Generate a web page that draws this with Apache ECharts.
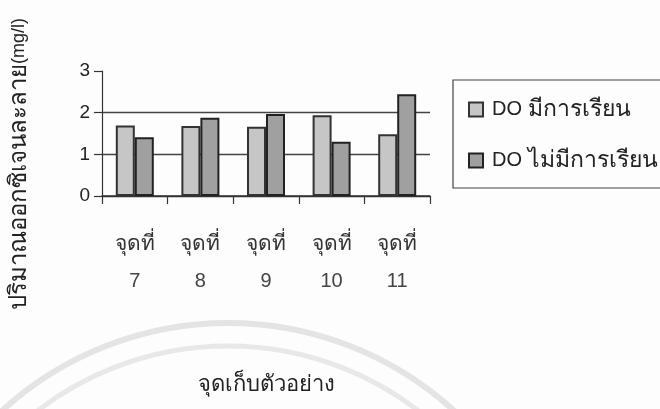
<!DOCTYPE html>
<html>
<head>
<meta charset="utf-8">
<script src="https://cdn.jsdelivr.net/npm/echarts@6/dist/echarts.min.js"></script>
<style>
  html, body { margin: 0; padding: 0; background: #fdfdfd; }
  #chart { width: 660px; height: 409px; }
</style>
</head>
<body>
<div id="chart"></div>
<script>
// Sampling points and dissolved oxygen (mg/l)
const stations = ['7', '8', '9', '10', '11'];
const seriesNames = ['DO มีการเรียน', 'DO ไม่มีการเรียน'];
const doWithClass = [1.69, 1.68, 1.66, 1.94, 1.48];
const doWithoutClass = [1.41, 1.88, 1.97, 1.30, 2.44];
const yTicks = [0, 1, 2, 3];

const latin = '"Liberation Sans", Arial, sans-serif';
const thai = 'Tahoma, "Noto Sans", "DejaVu Sans", sans-serif';
const chart = echarts.init(document.getElementById('chart'), null, { renderer: 'canvas' });

chart.setOption({
  backgroundColor: '#fdfdfd',
  animation: false,
  textStyle: { fontFamily: latin },
  graphic: [
    // faint seal arcs printed behind the page
    { type: 'circle', z: -10, shape: { cx: 228, cy: 658, r: 335 },
      style: { fill: 'none', stroke: '#e4e4e4', lineWidth: 6 } },
    { type: 'circle', z: -10, shape: { cx: 228, cy: 658, r: 312 },
      style: { fill: 'none', stroke: '#e8e8e8', lineWidth: 5 } },
    // legend frame
    { type: 'rect', z: 5, shape: { x: 453, y: 80, width: 230, height: 108 },
      style: { fill: 'none', stroke: '#444', lineWidth: 1.2 } },
    // value axis title
    { type: 'text', z: 5, x: 19, y: 164, rotation: Math.PI / 2,
      style: {
        text: '{t|ปริมาณออกซิเจนละลาย}{l|(mg/l)}',
        align: 'center', verticalAlign: 'middle',
        rich: {
          t: { fontSize: 24, fontFamily: thai, fill: '#222' },
          l: { fontSize: 18, fontFamily: latin, fill: '#222' }
        }
      } }
  ],
  legend: {
    left: 463, top: 93, orient: 'vertical',
    itemWidth: 14, itemHeight: 14, itemGap: 28,
    icon: 'rect',
    formatter: n => {
      const parts = n.split(' ');
      return '{a|' + parts[0] + ' }{b|' + parts.slice(1).join(' ') + '}';
    },
    textStyle: {
      padding: [0, 0, 0, 4],
      rich: {
        a: { fontSize: 20, fontFamily: latin, color: '#222' },
        b: { fontSize: 23, fontFamily: thai, color: '#222' }
      }
    },
    data: seriesNames
  },
  grid: { left: 102, right: 230, top: 71, bottom: 213, containLabel: false },
  xAxis: {
    type: 'category',
    data: stations,
    name: 'จุดเก็บตัวอย่าง',
    nameLocation: 'middle',
    nameGap: 178,
    nameTextStyle: { fontSize: 22, color: '#222', fontFamily: thai },
    axisLine: { lineStyle: { color: '#333', width: 1.5 } },
    axisTick: { show: true, length: 8, lineStyle: { color: '#333', width: 1.2 } },
    axisLabel: {
      margin: 30, lineHeight: 37,
      formatter: v => '{t|จุดที่}\n{n|' + v + '}',
      rich: {
        t: { fontSize: 21, fontFamily: thai, color: '#333', lineHeight: 37 },
        n: { fontSize: 20, fontFamily: latin, color: '#444', lineHeight: 37 }
      }
    }
  },
  yAxis: {
    type: 'value',
    min: yTicks[0], max: yTicks[yTicks.length - 1], interval: 1,
    axisLine: { show: true, lineStyle: { color: '#333', width: 1.2 } },
    axisTick: { show: true, length: 8, lineStyle: { color: '#333', width: 1.2 } },
    axisLabel: { margin: 12, fontSize: 19, color: '#222', fontFamily: latin },
    splitLine: { show: true, lineStyle: { color: ['#333', '#444', '#444', 'rgba(0,0,0,0)'], width: 1.3 } }
  },
  series: [
    {
      name: seriesNames[0], type: 'bar', data: doWithClass,
      barWidth: 19, barGap: '0%',
      itemStyle: { color: '#c6c6c6', borderColor: '#333', borderWidth: 2 }
    },
    {
      name: seriesNames[1], type: 'bar', data: doWithoutClass,
      barWidth: 19,
      itemStyle: { color: '#a0a0a0', borderColor: '#222', borderWidth: 2 }
    }
  ]
});
</script>
</body>
</html>
